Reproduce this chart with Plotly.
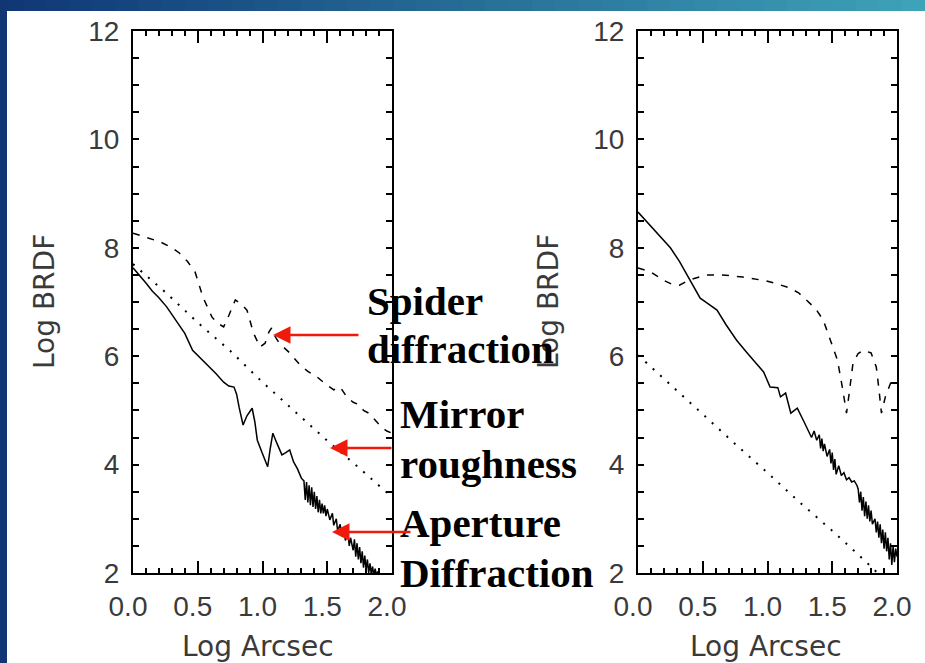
import plotly.graph_objects as go

# ---------------- data ----------------
# Left panel
left_aperture_x = [0, 0.05, 0.10, 0.15, 0.20, 0.26, 0.32, 0.40, 0.46, 0.52, 0.58, 0.64, 0.70, 0.74, 0.78,
                   0.80, 0.82, 0.85, 0.88, 0.92, 0.94, 0.96, 1.00, 1.04, 1.06, 1.08, 1.11, 1.15, 1.18,
                   1.21, 1.24, 1.27, 1.30, 1.32, 1.33, 1.34, 1.35, 1.36, 1.37, 1.38, 1.39, 1.40, 1.41,
                   1.42, 1.43, 1.44, 1.45, 1.46, 1.47, 1.48, 1.49, 1.50, 1.52, 1.54, 1.55, 1.57, 1.58,
                   1.60, 1.61, 1.63, 1.64, 1.66, 1.67, 1.68, 1.70, 1.71, 1.72, 1.73, 1.74, 1.75, 1.76,
                   1.77, 1.78, 1.79, 1.80, 1.81, 1.82, 1.83, 1.84, 1.85, 1.86, 1.87, 1.88, 1.89, 1.90]
left_aperture_y = [7.63, 7.50, 7.35, 7.20, 7.08, 6.91, 6.70, 6.42, 6.11, 5.97, 5.82, 5.68, 5.52, 5.45, 5.43,
                   5.30, 5.05, 4.73, 4.90, 5.04, 4.80, 4.45, 4.20, 3.96, 4.30, 4.58, 4.40, 4.18, 4.22,
                   4.27, 4.05, 3.92, 3.75, 3.70, 3.35, 3.68, 3.30, 3.62, 3.25, 3.58, 3.22, 3.50, 3.18,
                   3.42, 3.12, 3.35, 3.10, 3.28, 3.10, 3.25, 3.05, 3.18, 2.98, 3.10, 2.88, 3.00, 2.78,
                   2.90, 2.68, 2.80, 2.60, 2.72, 2.50, 2.65, 2.42, 2.62, 2.30, 2.55, 2.25, 2.48, 2.18,
                   2.40, 2.10, 2.32, 2.05, 2.25, 2.00, 2.18, 1.98, 2.12, 1.95, 2.08, 1.95, 2.03, 1.90]

left_spider_x = [0, 0.10, 0.21, 0.30, 0.36, 0.42, 0.48, 0.54, 0.61, 0.66, 0.70, 0.74, 0.79, 0.84, 0.88,
                 0.93, 0.98, 1.02, 1.05, 1.07, 1.10, 1.13, 1.17, 1.21, 1.29, 1.35, 1.42, 1.48, 1.55,
                 1.60, 1.65, 1.70, 1.75, 1.78, 1.82, 1.86, 1.92, 1.96, 2.00]
left_spider_y = [8.27, 8.20, 8.11, 8.00, 7.90, 7.75, 7.55, 7.09, 6.72, 6.60, 6.54, 6.75, 7.04, 6.95, 6.85,
                 6.43, 6.17, 6.24, 6.45, 6.52, 6.35, 6.24, 6.15, 6.06, 5.84, 5.72, 5.62, 5.50, 5.38,
                 5.43, 5.25, 5.15, 5.10, 5.00, 4.95, 4.85, 4.69, 4.62, 4.58]

left_mirror_x = [0, 0.25, 0.50, 0.75, 1.00, 1.25, 1.50, 1.75, 2.00]
left_mirror_y = [7.70, 7.18, 6.62, 6.10, 5.52, 4.98, 4.44, 3.93, 3.40]

# Right panel
right_aperture_x = [0, 0.10, 0.20, 0.25, 0.32, 0.40, 0.44, 0.48, 0.54, 0.61, 0.68, 0.76, 0.84, 0.92, 0.97,
                    1.02, 1.05, 1.08, 1.10, 1.14, 1.18, 1.23, 1.28, 1.32, 1.34, 1.36, 1.38, 1.40, 1.41,
                    1.42, 1.43, 1.44, 1.46, 1.48, 1.49, 1.50, 1.51, 1.52, 1.53, 1.55, 1.57, 1.59, 1.61,
                    1.63, 1.65, 1.67, 1.69, 1.70, 1.71, 1.72, 1.73, 1.74, 1.75, 1.76, 1.77, 1.78, 1.79,
                    1.80, 1.81, 1.83, 1.84, 1.85, 1.86, 1.87, 1.88, 1.89, 1.90, 1.91, 1.92, 1.93, 1.94,
                    1.95, 1.96, 1.97, 1.98, 1.99, 2.00]
right_aperture_y = [8.66, 8.40, 8.13, 8.00, 7.75, 7.41, 7.22, 7.07, 6.97, 6.85, 6.58, 6.30, 6.07, 5.84, 5.71,
                    5.43, 5.43, 5.42, 5.25, 5.32, 4.95, 5.04, 4.80, 4.58, 4.50, 4.62, 4.45, 4.55, 4.30,
                    4.48, 4.25, 4.38, 4.15, 4.28, 4.02, 4.22, 3.90, 4.10, 3.82, 3.98, 3.80, 3.85, 3.72,
                    3.76, 3.68, 3.70, 3.62, 3.55, 3.30, 3.50, 3.15, 3.40, 3.05, 3.32, 3.00, 3.25, 2.95,
                    3.15, 2.90, 3.00, 2.75, 2.95, 2.65, 2.90, 2.55, 2.80, 2.45, 2.75, 2.40, 2.65, 2.25,
                    2.55, 2.15, 2.50, 2.20, 2.45, 2.30]

right_spider_x = [0, 0.10, 0.19, 0.26, 0.32, 0.40, 0.53, 0.65, 0.81, 0.99, 1.08, 1.17, 1.24, 1.30, 1.37,
                  1.43, 1.48, 1.54, 1.58, 1.61, 1.63, 1.66, 1.70, 1.74, 1.80, 1.84, 1.86, 1.88, 1.91,
                  1.95, 2.00]
right_spider_y = [7.63, 7.55, 7.41, 7.33, 7.31, 7.41, 7.50, 7.50, 7.46, 7.39, 7.33, 7.26, 7.17, 7.04, 6.88,
                  6.67, 6.35, 5.93, 5.40, 4.95, 5.30, 5.87, 6.05, 6.11, 6.06, 5.80, 5.40, 4.95, 5.25,
                  5.50, 5.60]

right_mirror_x = [0, 0.25, 0.50, 0.75, 1.00, 1.25, 1.50, 1.75, 1.85]
right_mirror_y = [6.02, 5.48, 4.93, 4.38, 3.85, 3.30, 2.78, 2.23, 2.00]

x_ticks = [0.0, 0.5, 1.0, 1.5, 2.0]
y_ticks = [2, 4, 6, 8, 10, 12]

labels = [("Spider", "diffraction"), ("Mirror", "roughness"), ("Aperture", "Diffraction")]

# ---------------- figure ----------------
W, H = 925, 663


def px(x):
    return x / W


def py(y):
    return 1 - y / H


fig = go.Figure()

line_solid = dict(color="black", width=1.5)
line_dash = dict(color="black", width=1.5, dash="7px,8px")
line_dot = dict(color="black", width=2, dash="2px,8px")

for xs, ys, ln, xa, ya in [
    (left_aperture_x, left_aperture_y, line_solid, "x", "y"),
    (left_spider_x, left_spider_y, line_dash, "x", "y"),
    (left_mirror_x, left_mirror_y, line_dot, "x", "y"),
    (right_aperture_x, right_aperture_y, line_solid, "x2", "y2"),
    (right_spider_x, right_spider_y, line_dash, "x2", "y2"),
    (right_mirror_x, right_mirror_y, line_dot, "x2", "y2"),
]:
    fig.add_trace(go.Scatter(x=xs, y=ys, mode="lines", line=ln, xaxis=xa, yaxis=ya,
                             showlegend=False, hoverinfo="skip"))

tick_font = dict(family="Liberation Sans, Arial, sans-serif", size=28, color="#3a3a3a")
title_font = dict(family="DejaVu Sans, sans-serif", size=28, color="#3a3a3a")

y_dom = [py(573), py(31)]


def xaxis_cfg(x0, x1, anchor):
    return dict(domain=[px(x0), px(x1)], range=[0, 2], anchor=anchor, automargin=False,
                tickvals=x_ticks, tickformat=".1f", ticks="inside", ticklen=12, tickwidth=1.5,
                tickcolor="black",
                minor=dict(dtick=0.1, ticks="inside", ticklen=5, tickwidth=1.5, tickcolor="black"),
                showline=True, linewidth=2, linecolor="black", mirror="allticks",
                showgrid=False, zeroline=False, tickfont=tick_font, ticklabelstandoff=7,
                ticklabelshift=-5, fixedrange=True)


def yaxis_cfg(anchor):
    return dict(domain=y_dom, range=[2, 12], anchor=anchor, automargin=False,
                tickvals=y_ticks, ticks="inside", ticklen=6, tickwidth=1.5, tickcolor="black",
                minor=dict(dtick=0.5, ticks="inside", ticklen=6, tickwidth=1.5, tickcolor="black"),
                showline=True, linewidth=2, linecolor="black", mirror="allticks",
                showgrid=False, zeroline=False, tickfont=tick_font, ticklabelstandoff=6,
                fixedrange=True)


fig.update_layout(
    width=W, height=H, autosize=False,
    margin=dict(l=0, r=0, t=0, b=0, pad=0),
    paper_bgcolor="white", plot_bgcolor="white",
    xaxis=xaxis_cfg(133, 392, "y"),
    yaxis=yaxis_cfg("x"),
    xaxis2=xaxis_cfg(638, 897, "y2"),
    yaxis2=yaxis_cfg("x2"),
)

# ---------------- blue gradient frame (decoration) ----------------
shapes = []
n = 40
c0 = (16, 56, 118)
c1 = (62, 162, 184)
for i in range(n):
    t = i / (n - 1)
    c = tuple(int(c0[k] + (c1[k] - c0[k]) * t) for k in range(3))
    shapes.append(dict(type="rect", xref="paper", yref="paper",
                       x0=i / n, x1=(i + 1) / n + 0.002, y0=py(11), y1=1,
                       fillcolor="rgb(%d,%d,%d)" % c, line=dict(width=0), layer="above"))
shapes.append(dict(type="rect", xref="paper", yref="paper", x0=0, x1=px(7), y0=0, y1=1,
                   fillcolor="rgb(16,54,116)", line=dict(width=0), layer="above"))
fig.update_layout(shapes=shapes)

# ---------------- annotations ----------------
ann = []
# axis titles
for cx in (45, 549):
    ann.append(dict(text="Log BRDF", xref="paper", yref="paper", x=px(cx), y=py(302),
                    showarrow=False, textangle=-90, font=title_font,
                    xanchor="center", yanchor="middle"))
for cx in (258, 766):
    ann.append(dict(text="Log Arcsec", xref="paper", yref="paper", x=px(cx), y=py(646),
                    showarrow=False, font=title_font, xanchor="center", yanchor="middle"))

# label text
label_font = dict(family="Liberation Serif, Times New Roman, serif", size=41, color="black")
label_pos = [(365, 301, 349), (398, 414, 464), (398, 523, 573)]
for (l1, l2), (lx, y1, y2) in zip(labels, label_pos):
    for txt, yy in ((l1, y1), (l2, y2)):
        ann.append(dict(text="<b>%s</b>" % txt, xref="paper", yref="paper", x=px(lx), y=py(yy),
                        showarrow=False, font=label_font, xanchor="left", yanchor="middle"))

# red arrows: (tip x, tip y, tail x)
arrows = [(273, 335, 360), (330, 448, 393), (332, 532, 412)]
for tx, ty, sx in arrows:
    ann.append(dict(text="", xref="paper", yref="paper", x=px(tx), y=py(ty),
                    ax=sx - tx, ay=0, axref="pixel", ayref="pixel",
                    showarrow=True, arrowhead=2, arrowsize=1.4, arrowwidth=2.5,
                    arrowcolor="#f01a0a", standoff=0))

fig.update_layout(annotations=ann)

fig.write_html("out.html", config={"displayModeBar": False},
               post_script="document.body.style.margin='0';document.body.style.overflow='hidden';")
